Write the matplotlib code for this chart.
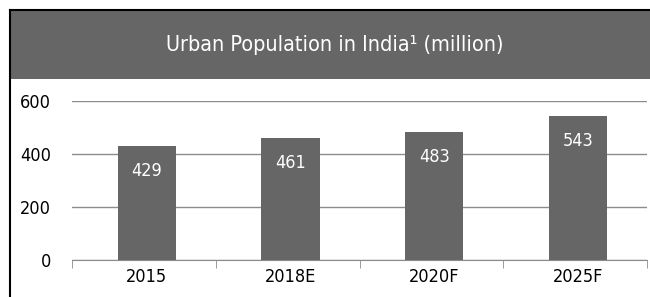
import matplotlib.pyplot as plt
from matplotlib.patches import Rectangle
from matplotlib.lines import Line2D

# data
years = ["2015", "2018E", "2020F", "2025F"]
population = [429, 461, 483, 543]
y_ticks = [0, 200, 400, 600]

BAR_GREY = "#666666"
GRID_GREY = "#8c8c8c"

plt.rcParams['font.family'] = ["DejaVu Sans"]
plt.rcParams['font.stretch'] = "condensed"

fig = plt.figure(figsize=(6.5, 2.97), dpi=100)

# header band + black frame
fig.patches.append(Rectangle((10 / 650, 1 - 79 / 297), 1, 68 / 297,
                             transform=fig.transFigure, facecolor=BAR_GREY,
                             edgecolor="none", zorder=0))
fig.lines.append(Line2D([10 / 650, 10 / 650], [0, 1 - 10 / 297],
                        transform=fig.transFigure, color="black", lw=1.5))
fig.lines.append(Line2D([10 / 650, 1], [1 - 10 / 297, 1 - 10 / 297],
                        transform=fig.transFigure, color="black", lw=1.5))
fig.text(0.515, 1 - 45 / 297, "Urban Population in India\u00b9 (million)",
         ha="center", va="center", color="white", fontsize=15.5)

ax = fig.add_axes([72 / 650, 1 - 260 / 297, 575 / 650, 159 / 297])
x = [i + 0.02 for i in range(len(years))]
bars = ax.bar(x, population, width=0.405, color=BAR_GREY, zorder=3)

for b, v in zip(bars, population):
    ax.annotate(str(v), (b.get_x() + b.get_width() / 2, v),
                xytext=(0, -18), textcoords="offset points",
                ha="center", va="center", color="white", fontsize=13)

ax.set_xlim(-0.5, len(years) - 0.5)
ax.set_ylim(0, 600)
ax.set_yticks(y_ticks)
ax.set_yticklabels([str(t) for t in y_ticks], fontsize=13)
ax.tick_params(axis="y", length=0, pad=15)
ax.yaxis.grid(True, color=GRID_GREY, lw=1, zorder=0)

ax.set_xticks(x)
ax.set_xticklabels(years, fontsize=13)
ax.set_xticks([i - 0.5 for i in range(len(years) + 1)], minor=True)
ax.tick_params(axis="x", which="major", length=0, pad=6)
ax.tick_params(axis="x", which="minor", length=6, color=GRID_GREY, direction="out")

for s in ["top", "right", "left"]:
    ax.spines[s].set_visible(False)
ax.spines["bottom"].set_color(GRID_GREY)

fig.savefig("out.png", dpi=100)
